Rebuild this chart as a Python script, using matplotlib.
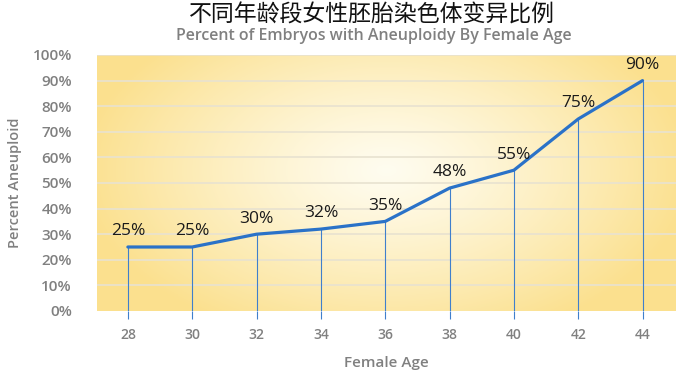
import numpy as np
import matplotlib.pyplot as plt

ages = ["28", "30", "32", "34", "36", "38", "40", "42", "44"]
aneuploid_pct = [25, 25, 30, 32, 35, 48, 55, 75, 90]
y_ticks = [0, 10, 20, 30, 40, 50, 60, 70, 80, 90, 100]

title_cn = "不同年龄段女性胚胎染色体变异比例"
subtitle = "Percent of Embryos with Aneuploidy By Female Age"

line_col = "#2a72c8"
drop_col = "#3f7fcc"
gray = "#808080"

fig = plt.figure(figsize=(6.82, 3.72), dpi=100)
ax = fig.add_axes([97 / 682, 1 - 311 / 372, (676 - 97) / 682, (311 - 55) / 372])

x = np.arange(len(ages))
x_lo, x_hi = -0.48, len(ages) - 1 + 0.52

# background: light in the middle, yellow toward the edges
gx, gy = np.meshgrid(np.linspace(-1, 1, 300), np.linspace(-1, 1, 150))
r = np.clip(np.sqrt((gx / 1.05) ** 2 + ((gy - 0.1) / 1.4) ** 2), 0, 1)
c_in = np.array([1.0, 0.99, 0.94])
c_out = np.array([0.985, 0.88, 0.56])
img = c_in + (c_out - c_in) * (r[..., None] ** 1.2)
ax.imshow(img, extent=[x_lo, x_hi, 0, 100], aspect="auto", origin="lower", zorder=0)

for t in y_ticks[1:]:
    ax.axhline(t, color="#e8e2d0", lw=1.2, zorder=1)

ax.vlines(x, 0, aneuploid_pct, color=drop_col, lw=0.8, zorder=2)
ax.plot(x, aneuploid_pct, color=line_col, lw=2.3, zorder=3, solid_capstyle="round")

for xi, v in zip(x, aneuploid_pct):
    ax.text(xi, v + 3, f"{v}%", ha="center", va="bottom", fontsize=12.5,
            family="Open Sans", color="#1a1a1a", zorder=4)

ax.set_xlim(x_lo, x_hi)
ax.set_ylim(0, 100)
ax.set_xticks(x)
ax.set_xticklabels(ages)
ax.set_yticks(y_ticks)
ax.set_yticklabels([f"{t}%" for t in y_ticks])
for lab in ax.get_xticklabels() + ax.get_yticklabels():
    lab.set_family("Open Sans")
    lab.set_fontweight("semibold")
    lab.set_color(gray)
for lab in ax.get_yticklabels():
    lab.set_fontsize(11)
for lab in ax.get_xticklabels():
    lab.set_fontsize(10)
ax.tick_params(axis="x", length=6, color=drop_col, width=0.8, pad=6)
ax.tick_params(axis="y", length=0, pad=18)
for s in ax.spines.values():
    s.set_visible(False)

ax.set_xlabel("Female Age", family="Open Sans", fontweight="semibold", color=gray,
              fontsize=11, labelpad=10)
ax.set_ylabel("Percent Aneuploid", family="Open Sans", fontweight="semibold", color=gray,
              fontsize=10.5, labelpad=8)

fig.text(0.545, 1 - 15 / 372, title_cn, ha="center", va="center", fontsize=16.5,
         family=["Noto Sans CJK SC", "DejaVu Sans"], color="#111111")
fig.text(0.548, 1 - 36 / 372, subtitle, ha="center", va="center", fontsize=11.5,
         family="Open Sans", fontweight="semibold", color=gray)

fig.savefig("out.png", dpi=100)
